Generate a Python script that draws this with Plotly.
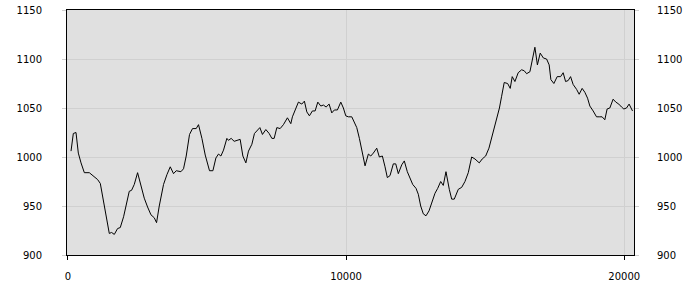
import plotly.graph_objects as go

x_values = [115, 197, 294, 377, 474, 593, 772, 952, 1070, 1167, 1250, 1372, 1490, 1573, 1670, 1788, 1885,
            2004, 2090, 2208, 2291, 2388, 2507, 2629, 2747, 2866, 2988, 3106, 3189, 3286, 3440, 3562, 3681,
            3799, 3896, 4065, 4158, 4255, 4374, 4482, 4614, 4697, 4819, 4938, 5092, 5214, 5322, 5415, 5501,
            5595, 5717, 5774, 5871, 5979, 6098, 6194, 6291, 6399, 6493, 6615, 6708, 6805, 6902, 6995, 7117,
            7236, 7333, 7416, 7512, 7631, 7749, 7893, 8015, 8072, 8195, 8288, 8410, 8503, 8590, 8683, 8791,
            8888, 8985, 9092, 9186, 9283, 9391, 9487, 9581, 9689, 9811, 9904, 9990, 10084, 10206, 10288,
            10385, 10479, 10565, 10683, 10802, 10888, 10981, 11103, 11197, 11305, 11401, 11484, 11581, 11699,
            11786, 11879, 12001, 12094, 12202, 12299, 12396, 12515, 12597, 12683, 12777, 12874, 12982, 13078,
            13197, 13294, 13402, 13495, 13592, 13711, 13797, 13890, 14034, 14156, 14274, 14393, 14515, 14633,
            14788, 14895, 15018, 15136, 15233, 15326, 15434, 15513, 15592, 15685, 15808, 15901, 15973, 16070,
            16188, 16311, 16404, 16490, 16609, 16691, 16788, 16878, 16979, 17093, 17208, 17301, 17362, 17470,
            17589, 17711, 17804, 17891, 17984, 18070, 18163, 18286, 18379, 18487, 18584, 18681, 18763, 18881,
            19003, 19122, 19204, 19301, 19384, 19481, 19600, 19696, 19804, 19902, 19984, 20081, 20174, 20297]

y_values = [1006, 1024, 1025, 1004, 994, 984, 984, 980, 977, 973, 960, 939, 922, 923, 921, 927, 928,
            939, 950, 965, 966, 972, 984, 970, 958, 949, 941, 938, 933, 950, 972, 982, 990,
            983, 986, 985, 988, 1001, 1023, 1029, 1029, 1033, 1019, 1002, 986, 986, 999, 1003, 1001,
            1007, 1019, 1017, 1019, 1016, 1017, 1018, 1001, 994, 1006, 1013, 1024, 1027, 1030, 1023, 1028,
            1024, 1019, 1019, 1030, 1029, 1033, 1040, 1034, 1041, 1050, 1056, 1054, 1057, 1046, 1042, 1047,
            1047, 1056, 1052, 1053, 1051, 1054, 1045, 1048, 1048, 1056, 1050, 1042, 1041, 1041, 1036,
            1030, 1019, 1007, 991, 1003, 1001, 1004, 1009, 1000, 1001, 990, 979, 981, 993,
            993, 983, 992, 996, 985, 978, 972, 968, 962, 950, 942, 940, 945, 953,
            963, 968, 975, 971, 985, 967, 957, 957, 967, 969, 975, 984, 1000, 998,
            994, 998, 1001, 1009, 1019, 1031, 1042, 1050, 1062, 1076, 1075, 1070, 1082, 1077,
            1086, 1089, 1088, 1085, 1087, 1099, 1112, 1094, 1106, 1101, 1100, 1094, 1079, 1075,
            1082, 1082, 1086, 1077, 1078, 1082, 1074, 1069, 1064, 1070, 1066, 1060, 1052, 1047,
            1041, 1041, 1041, 1038, 1049, 1050, 1059, 1056, 1054, 1051, 1049, 1050, 1054, 1047]

y_ticks = [900, 950, 1000, 1050, 1100, 1150]
x_ticks = [0, 10000, 20000]
x_range = [-30, 20350]
y_range = [900, 1150]

font = dict(family="DejaVu Sans", size=10, color="#000000")

fig = go.Figure()
fig.add_trace(go.Scatter(x=x_values, y=y_values, mode="lines",
                         line=dict(color="#000000", width=1), showlegend=False,
                         hoverinfo="skip"))
# empty trace so the right-hand value axis is drawn
fig.add_trace(go.Scatter(x=[None], y=[None], yaxis="y2", mode="lines",
                         showlegend=False, hoverinfo="skip"))

fig.update_layout(
    width=700, height=300,
    margin=dict(l=67, r=66, t=10, b=45),
    paper_bgcolor="#ffffff",
    plot_bgcolor="#e0e0e0",
    font=font,
    xaxis=dict(range=x_range, tickvals=x_ticks, ticktext=[str(v) for v in x_ticks],
               showgrid=True, gridcolor="#d0d0d0", gridwidth=1, zeroline=False,
               showline=True, linecolor="#000000", linewidth=1, mirror=True,
               ticks="outside", ticklen=4, tickcolor="#000000", automargin=False,
               ticklabelstandoff=8, tickfont=font),
    yaxis=dict(range=y_range, tickvals=y_ticks, ticktext=[str(v) for v in y_ticks],
               showgrid=True, gridcolor="#d0d0d0", gridwidth=1, zeroline=False,
               showline=True, linecolor="#000000", linewidth=1, mirror=True,
               ticks="outside", ticklen=4, tickcolor="#d0d0d0", automargin=False,
               ticklabelstandoff=18, tickfont=font),
    yaxis2=dict(range=y_range, tickvals=y_ticks, ticktext=[str(v) for v in y_ticks],
                overlaying="y", side="right", showgrid=False, zeroline=False,
                showline=False, ticks="outside", ticklen=4, tickcolor="#d0d0d0",
                automargin=False, ticklabelstandoff=16, tickfont=font),
)

fig.write_html("out.html")
